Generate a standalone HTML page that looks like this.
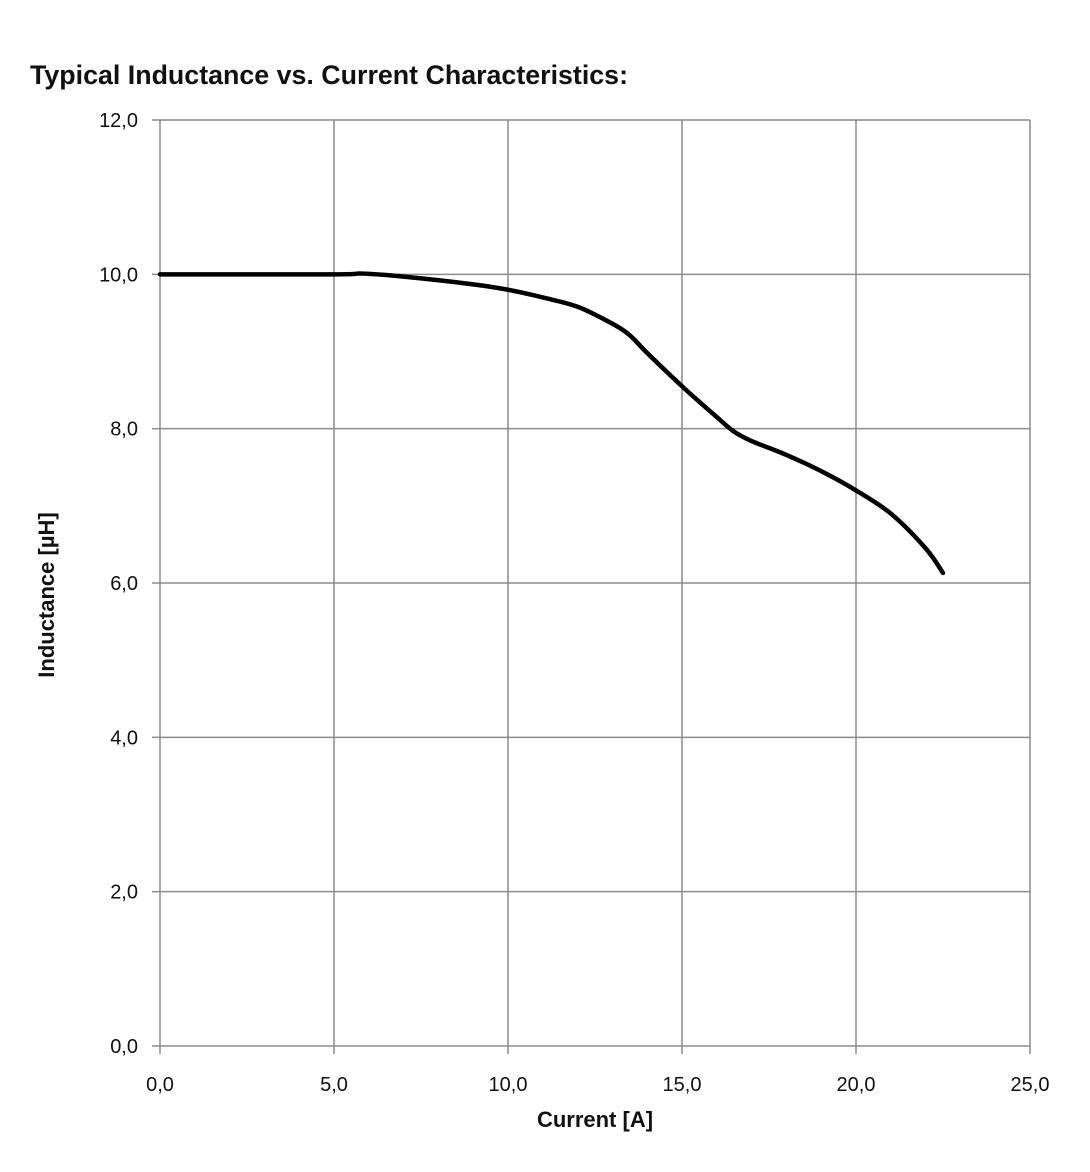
<!DOCTYPE html>
<html><head><meta charset="utf-8"><style>
html,body{margin:0;padding:0;background:#fff;}
svg{display:block;font-family:"Liberation Sans",Arial,sans-serif;}
</style></head><body>
<svg id="chart" width="1090" height="1172" viewBox="0 0 1090 1172">
<text x="30" y="84" font-size="27" font-weight="bold" textLength="598" lengthAdjust="spacingAndGlyphs" fill="#111">Typical Inductance vs. Current Characteristics:</text>
<g id="grid"></g>
<g id="axes"></g>
<g id="series"></g>
<text x="595" y="1127" font-size="22" font-weight="bold" text-anchor="middle" fill="#111">Current [A]</text>
<text transform="translate(54,595) rotate(-90)" font-size="22" font-weight="bold" text-anchor="middle" fill="#111">Inductance [µH]</text>
</svg>
<script>
const xTicks = [0, 5, 10, 15, 20, 25];
const yTicks = [0, 2, 4, 6, 8, 10, 12];
const xTickLabels = ["0,0", "5,0", "10,0", "15,0", "20,0", "25,0"];
const yTickLabels = ["0,0", "2,0", "4,0", "6,0", "8,0", "10,0", "12,0"];
const currentA = [0, 5, 5.8, 7, 9, 10, 11, 12, 13, 13.5, 14, 15, 16, 16.5, 17, 18, 19, 20, 21, 22, 22.5];
const inductanceUH = [10, 10, 10.01, 9.97, 9.87, 9.8, 9.7, 9.58, 9.36, 9.21, 8.98, 8.55, 8.15, 7.96, 7.84, 7.66, 7.45, 7.2, 6.9, 6.45, 6.13];

const X0 = 160, X1 = 1030, Y0 = 1046, Y1 = 120;
const xMin = 0, xMax = 25, yMin = 0, yMax = 12;
function sx(v){ return X0 + (v - xMin) / (xMax - xMin) * (X1 - X0); }
function sy(v){ return Y0 - (v - yMin) / (yMax - yMin) * (Y0 - Y1); }
const NS = "http://www.w3.org/2000/svg";
function mk(tag, attrs, parent){ const e = document.createElementNS(NS, tag); for (const k in attrs) e.setAttribute(k, attrs[k]); parent.appendChild(e); return e; }
const grid = document.getElementById('grid'), axes = document.getElementById('axes'), series = document.getElementById('series');

xTicks.forEach((t, i) => {
  if (t !== xMin) {
    const g = mk('line', {x1: sx(t), x2: sx(t), y1: Y1, y2: Y0, stroke: '#8c8c8c', 'stroke-width': 1.5}, grid);
    
    
  }
  const tk = mk('line', {x1: sx(t), x2: sx(t), y1: Y0, y2: Y0 + 8, stroke: '#8c8c8c', 'stroke-width': 1.5}, axes);
  
  
  const lb = mk('text', {x: sx(t), y: Y0 + 45, 'font-size': 20, 'text-anchor': 'middle', fill: '#111'}, axes);
  lb.textContent = xTickLabels[i];
  
  
});
yTicks.forEach((t, i) => {
  if (t !== yMin) {
    const g = mk('line', {x1: X0, x2: X1, y1: sy(t), y2: sy(t), stroke: '#8c8c8c', 'stroke-width': 1.5}, grid);
    
    
  }
  const tk = mk('line', {x1: X0 - 8, x2: X0, y1: sy(t), y2: sy(t), stroke: '#8c8c8c', 'stroke-width': 1.5}, axes);
  
  
  const lb = mk('text', {x: 138, y: sy(t) + 7, 'font-size': 20, 'text-anchor': 'end', fill: '#111'}, axes);
  lb.textContent = yTickLabels[i];
  
  
});
const xa = mk('line', {x1: X0, x2: X1, y1: Y0, y2: Y0, stroke: '#8c8c8c', 'stroke-width': 1.5}, axes);


const ya = mk('line', {x1: X0, x2: X0, y1: Y1, y2: Y0, stroke: '#8c8c8c', 'stroke-width': 1.5}, axes);



// smooth curve via Catmull-Rom
const pts = currentA.map((x, i) => [sx(x), sy(inductanceUH[i])]);
let d = 'M' + pts[0][0] + ',' + pts[0][1];
for (let i = 0; i < pts.length - 1; i++) {
  const p0 = pts[Math.max(0, i - 1)], p1 = pts[i], p2 = pts[i + 1], p3 = pts[Math.min(pts.length - 1, i + 2)];
  const c1 = [p1[0] + (p2[0] - p0[0]) / 6, p1[1] + (p2[1] - p0[1]) / 6];
  const c2 = [p2[0] - (p3[0] - p1[0]) / 6, p2[1] - (p3[1] - p1[1]) / 6];
  d += ' C' + c1 + ' ' + c2 + ' ' + p2;
}
const line = mk('path', {d: d, fill: 'none', stroke: '#000', 'stroke-width': 4.5, 'stroke-linecap': 'round', 'stroke-linejoin': 'round'}, series);


</script>
</body></html>
